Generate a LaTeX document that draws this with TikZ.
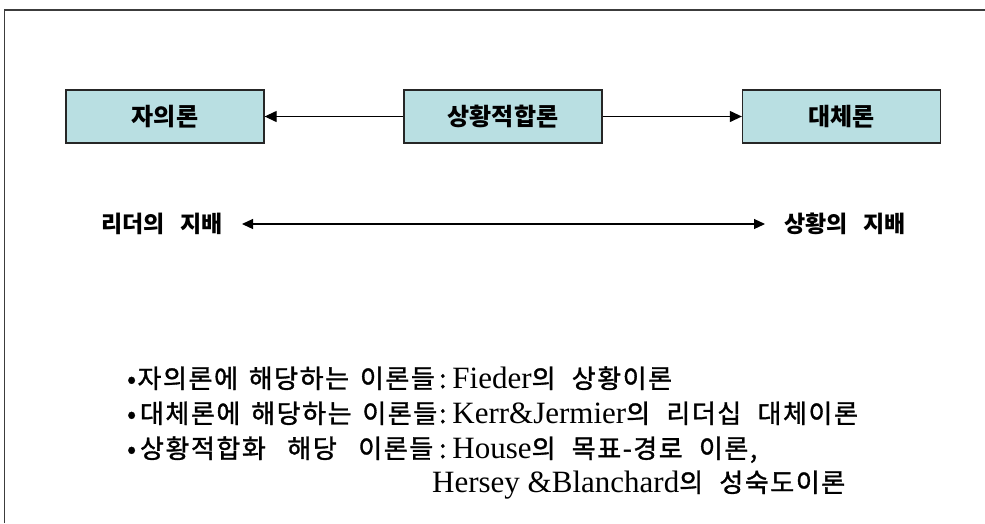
\documentclass[tikz,border=0pt]{standalone}
\usepackage{fontspec}
\usetikzlibrary{arrows.meta}
\newfontfamily\kr[WordSpace=3]{Noto Sans CJK KR}
\newfontfamily\krm[WordSpace=2.2,FakeBold=1.3,LetterSpace=6]{Noto Sans CJK KR}
\newfontfamily\lat{Liberation Serif}
\newcommand\enw[1]{{\lat\fontsize{31}{34}\selectfont #1}}
\newcommand\pre[1]{\makebox[306pt][s]{#1}\hspace{6pt}:\hspace{6pt}}
\definecolor{boxfill}{RGB}{185,223,226}
\definecolor{frameline}{RGB}{60,60,60}
\begin{document}
\begin{tikzpicture}[x=1pt,y=-1pt,
  box/.style={draw=black!85,line width=1.3pt,fill=boxfill,minimum width=198pt,minimum height=53pt,inner sep=0pt,font=\kr\bfseries\fontsize{24}{28}\selectfont},
  conn/.style={line width=1.2pt,-{Triangle[length=12pt,width=11pt]}},
  both/.style={line width=1.2pt,{Triangle[length=11pt,width=10pt]}-{Triangle[length=11pt,width=10pt]}},
  lbl/.style={inner xsep=19pt,inner ysep=0pt,font=\kr\bfseries\fontsize{23}{27}\selectfont},
  item/.style={anchor=base west,inner sep=0pt,font=\krm\fontsize{26}{30}\selectfont}]
\useasboundingbox (0,0) rectangle (985,523);
\fill[white] (0,0) rectangle (985,523);
\draw[frameline,line width=1.5pt] (4.5,523) -- (4.5,10) -- (985,10);
\node[box] (b1) at (165,116.5) {자의론};
\node[box] (b2) at (503,116.5) {상황적합론};
\node[box] (b3) at (841.5,116.5) {대체론};
\draw[conn] (b2) -- (b1);
\draw[conn] (b2) -- (b3);
\node[lbl,anchor=east] (ld) at (242,224) {리더의 지배};
\node[lbl,anchor=west] (sd) at (765,224) {상황의 지배};
\draw[both] (ld) -- (sd);
\node[item] (l1) at (127,388) {\pre{•자의론에 해당하는 이론들}\enw{Fieder}의 상황이론};
\node[item] (l2) at (127,423) {\pre{•\hspace{4pt}대체론에 해당하는 이론들}\enw{Kerr\&Jermier}의 리더십 대체이론};
\node[item] (l3) at (127,458) {\pre{•\hspace{4pt}상황적합화 해당 이론들}\enw{House}의 목표-경로 이론,};
\node[item] (l4) at (432,492) {\enw{Hersey \&Blanchard}의 성숙도이론};
\end{tikzpicture}
\end{document}
